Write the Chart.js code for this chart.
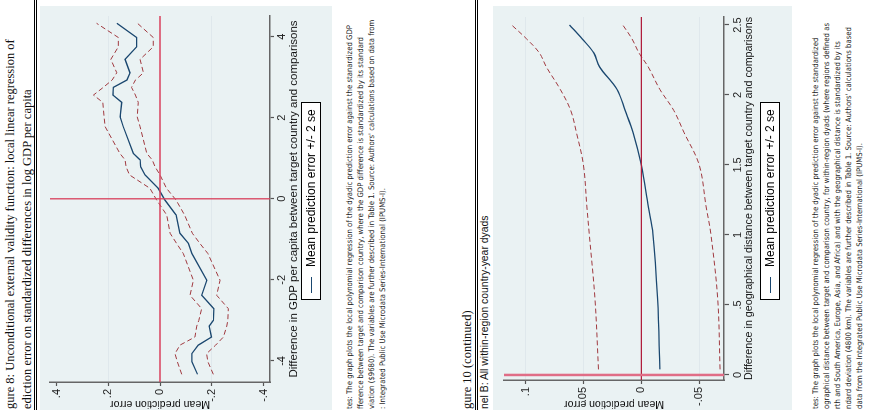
<!DOCTYPE html>
<html>
<head>
<meta charset="utf-8">
<script src="https://cdn.jsdelivr.net/npm/chart.js@4.4.1/dist/chart.umd.min.js"></script>
<style>
html, body { margin: 0; padding: 0; width: 869px; height: 410px; overflow: hidden; background: #fff; }
/* the scanned page is lying on its side: build it upright, then turn it */
#page { position: absolute; left: 0; top: 0; width: 410px; height: 869px; overflow: hidden;
        transform-origin: 0 0; transform: translate(0, 410px) rotate(-90deg); }
.panel { position: absolute; left: 0; width: 404px; background: #eaf2f3; }
.rule { position: absolute; left: 0; width: 410px; height: 0; border-top: 1px solid #000; }
.ttl { position: absolute; left: 1px; white-space: nowrap; font-family: 'Liberation Serif', serif; font-size: 12.5px; line-height: 15px; color: #111; }
.sub { position: absolute; left: 1px; white-space: nowrap; font-family: 'Liberation Sans', sans-serif; font-size: 10.4px; line-height: 12px; color: #111; }
.note { position: absolute; left: 1px; white-space: nowrap; font-family: 'Liberation Sans Narrow', 'DejaVu Sans Condensed', sans-serif; font-size: 7.7px; line-height: 10px; color: #222; }
.legend { position: absolute; left: 110px; width: 196px; height: 18px; border: 1px solid #000; background: #fff;
          font-family: 'Liberation Sans', sans-serif; font-size: 12px; line-height: 18px; white-space: nowrap; }
.legend span.key { display: inline-block; width: 16px; height: 0; border-top: 1.5px solid #1a476f; vertical-align: middle; margin: 0 10px 0 6px; }
canvas { position: absolute; left: 0; }
</style>
</head>
<body>
<div id="page">
  <div class="ttl" style="top:3px">gure 8: Unconditional external validity function: local linear regression of</div>
  <div class="ttl" style="top:20px">ediction error on standardized differences in log GDP per capita</div>
  <div class="rule" style="top:34px"></div>
  <div class="rule" style="top:36px"></div>
  <div class="panel" style="top:40px;height:292px"></div>
  <canvas id="c1" width="404" height="292" style="top:40px"></canvas>
  <div class="legend" style="top:301px"><span class="key"></span>Mean prediction error +/- 2 se</div>
  <div class="note" style="top:345px">tes: The graph plots the local polynomial regression of the dyadic prediction error against the stanardized GDP</div>
  <div class="note" style="top:356px">fference between target and comparison country, where the GDP difference is standardized by its standard</div>
  <div class="note" style="top:367px">viation ($9680).  The variables are further described in Table 1.   Source: Authors' calculations based on data from</div>
  <div class="note" style="top:378px">: Integrated Public Use Microdata Series-International (IPUMS-I).</div>

  <div class="ttl" style="top:460px">gure 10 (continued)</div>
  <div class="rule" style="top:475px"></div>
  <div class="rule" style="top:477px"></div>
  <div class="sub" style="top:479px">nel B: All within-region country-year dyads</div>
  <div class="panel" style="top:493px;height:299px"></div>
  <canvas id="c2" width="404" height="299" style="top:493px"></canvas>
  <div class="legend" style="top:760px"><span class="key"></span>Mean prediction error +/- 2 se</div>
  <div class="note" style="top:811px">tes:  The graph plots the local polynomial regression of the dyadic prediction error against the standardized</div>
  <div class="note" style="top:822px">ographical distance between target and comparison country, for within-region dyads (where regions defined as</div>
  <div class="note" style="top:833px">rth and South America, Europe, Asia, and Africa) and with the geographical distance is standardized by its</div>
  <div class="note" style="top:844px">ndard deviation (4800 km).  The variables are further described in Table 1.   Source: Authors' calculations based</div>
  <div class="note" style="top:855px">data from the Integrated Public Use Microdata Series-International (IPUMS-I).</div>
</div>

<script>
// Figure 8: GDP difference
const gdpX   = [-4.33, -4.02, -3.82, -3.61, -3.41, -3.14, -3.00, -2.71, -2.38, -2.01, -1.35, -1.10, -0.85, -0.40, -0.03, 0.26, 0.59, 0.79, 0.96, 1.12, 1.78, 2.02, 2.38, 2.56, 2.75, 2.93, 3.11, 3.44, 3.75, 3.98, 4.33];
const gdpMid = [-0.145, -0.123, -0.123, -0.148, -0.199, -0.190, -0.206, -0.208, -0.161, -0.181, -0.123, -0.110, -0.077, -0.062, -0.019, 0.007, 0.058, 0.075, 0.077, 0.103, 0.142, 0.154, 0.148, 0.182, 0.180, 0.128, 0.116, 0.135, 0.090, 0.090, 0.167];
const gdpHi  = [-0.084, -0.067, -0.058, -0.077, -0.135, -0.142, -0.150, -0.161, -0.116, -0.129, -0.090, -0.064, -0.039, -0.026, 0.013, 0.039, 0.118, 0.131, 0.135, 0.155, 0.212, 0.216, 0.221, 0.257, 0.219, 0.185, 0.167, 0.190, 0.161, 0.161, 0.245];
const gdpLo  = [-0.206, -0.185, -0.180, -0.215, -0.245, -0.258, -0.262, -0.264, -0.219, -0.232, -0.185, -0.154, -0.125, -0.095, -0.062, -0.025, 0.000, 0.019, 0.030, 0.051, 0.077, 0.088, 0.084, 0.095, 0.110, 0.095, 0.064, 0.077, 0.026, 0.026, 0.087];
const gdpRangeX = [-4.52, 4.51];
const gdpRangeY = [-0.425, 0.425];
const gdpTicksX = [-4, -2, 0, 2, 4];
const gdpTicksY = [-0.4, -0.2, 0, 0.2, 0.4];
const gdpLabelsY = ['-.4', '-.2', '0', '.2', '.4'];
const gdpGridY = [-0.2, 0.2];

// Figure 10 panel B: geographical distance
const distX   = [0.04, 0.54, 1.01, 1.20, 1.50, 1.73, 1.89, 2.04, 2.20, 2.30, 2.40, 2.50];
const distMid = [-0.016, -0.014, -0.010, -0.006, 0.000, 0.007, 0.014, 0.021, 0.036, 0.041, 0.051, 0.062];
const distHi  = [0.037, 0.040, 0.045, 0.047, 0.050, 0.056, 0.061, 0.070, 0.082, 0.088, 0.099, 0.112];
const distLo  = [-0.068, -0.066, -0.060, -0.056, -0.050, -0.037, -0.028, -0.016, -0.006, 0.002, 0.008, 0.016];
const distRangeX = [-0.036, 2.557];
const distRangeY = [-0.0714, 0.1186];
const distTicksX = [0, 0.5, 1, 1.5, 2, 2.5];
const distLabelsX = ['0', '.5', '1', '1.5', '2', '2.5'];
const distTicksY = [-0.05, 0, 0.05, 0.1];
const distLabelsY = ['-.05', '0', '.05', '.1'];
const distGridY = [-0.05, 0.05, 0.1];

const NAVY = '#1a476f', MAROON = '#a0393f';
const FONT = 'Liberation Sans';

function pts(xs, ys) {
    return xs.map((x, i) => ({ x: x, y: ys[i] }));
}

function curve(xs, ys, dashed, tension) {
    return {
        data: pts(xs, ys),
        borderColor: dashed ? MAROON : NAVY,
        borderWidth: dashed ? 1 : 1.3,
        borderDash: dashed ? [5, 3] : [],
        pointRadius: 0,
        tension: tension,
        fill: false
    };
}

function refLine(data, color, width) {
    return { data: data, borderColor: color, borderWidth: width, pointRadius: 0, fill: false };
}

function makeChart(id, o) {
    new Chart(document.getElementById(id).getContext('2d'), {
        type: 'line',
        data: { datasets: o.datasets },
        options: {
            responsive: false,
            animation: false,
            events: [],
            layout: { padding: o.padding },
            plugins: { legend: { display: false }, tooltip: { enabled: false } },
            scales: {
                x: {
                    type: 'linear',
                    min: o.rangeX[0], max: o.rangeX[1],
                    afterBuildTicks: s => { s.ticks = o.ticksX.map(v => ({ value: v })); },
                    afterFit: s => { s.height = o.xHeight; },
                    ticks: {
                        autoSkip: false, maxRotation: 0, padding: o.xTickPad,
                        color: '#222', font: { family: FONT, size: 11 },
                        callback: (v, i) => o.labelsX[i]
                    },
                    grid: { drawOnChartArea: false, tickLength: o.tickLenX, tickColor: '#555', tickWidth: 1.2 },
                    border: { color: '#666', width: 1.5 },
                    title: {
                        display: true, text: o.titleX, color: '#111',
                        font: { family: FONT, size: 11.5 }, padding: { top: 0, bottom: o.xTitlePad }
                    }
                },
                y: {
                    type: 'linear',
                    min: o.rangeY[0], max: o.rangeY[1],
                    afterBuildTicks: s => { s.ticks = o.ticksY.map(v => ({ value: v })); },
                    afterFit: s => { s.width = o.yWidth; },
                    ticks: {
                        autoSkip: false, padding: 3,
                        color: '#222', font: { family: FONT, size: 11 },
                        callback: (v, i) => o.labelsY[i]
                    },
                    grid: {
                        color: c => (c.tick && o.gridY.some(g => Math.abs(g - c.tick.value) < 1e-9)) ? '#dfe8ec' : 'rgba(0,0,0,0)',
                        lineWidth: 1, tickLength: 4, tickColor: '#555', tickWidth: 1.2
                    },
                    border: { color: '#666', width: 1.5 },
                    title: {
                        display: true, text: 'Mean prediction error', color: '#111',
                        font: { family: FONT, size: 10.5 }, padding: { top: 0, bottom: 0 }
                    }
                }
            }
        }
    });
}

makeChart('c1', {
    datasets: [
        refLine([{ x: 0, y: gdpRangeY[0] }, { x: 0, y: gdpRangeY[1] }], '#d9415c', 1.3),
        refLine([{ x: gdpRangeX[0], y: 0 }, { x: gdpRangeX[1], y: 0 }], '#d9415c', 1.3),
        curve(gdpX, gdpHi, true, 0),
        curve(gdpX, gdpLo, true, 0),
        curve(gdpX, gdpMid, false, 0)
    ],
    padding: { left: 0, right: 10, top: 10, bottom: 0 },
    rangeX: gdpRangeX, rangeY: gdpRangeY,
    ticksX: gdpTicksX, labelsX: gdpTicksX.map(String),
    ticksY: gdpTicksY, labelsY: gdpLabelsY, gridY: gdpGridY,
    titleX: 'Difference in GDP per capita between target country and comparisons',
    xHeight: 62, xTickPad: 1, tickLenX: 4, xTitlePad: 31, yWidth: 28
});

makeChart('c2', {
    datasets: [
        refLine([{ x: 0, y: distRangeY[0] }, { x: 0, y: distRangeY[1] }], '#e06d86', 2.5),
        refLine([{ x: distRangeX[0], y: 0 }, { x: distRangeX[1], y: 0 }], '#b01e3c', 1.2),
        curve(distX, distHi, true, 0.35),
        curve(distX, distLo, true, 0.35),
        curve(distX, distMid, false, 0.35)
    ],
    padding: { left: 0, right: 11, top: 11, bottom: 0 },
    rangeX: distRangeX, rangeY: distRangeY,
    ticksX: distTicksX, labelsX: distLabelsX,
    ticksY: distTicksY, labelsY: distLabelsY, gridY: distGridY,
    titleX: 'Difference in geographical distance between target country and comparisons',
    xHeight: 68, xTickPad: 2, tickLenX: 5, xTitlePad: 36, yWidth: 30
});
</script>
</body>
</html>
